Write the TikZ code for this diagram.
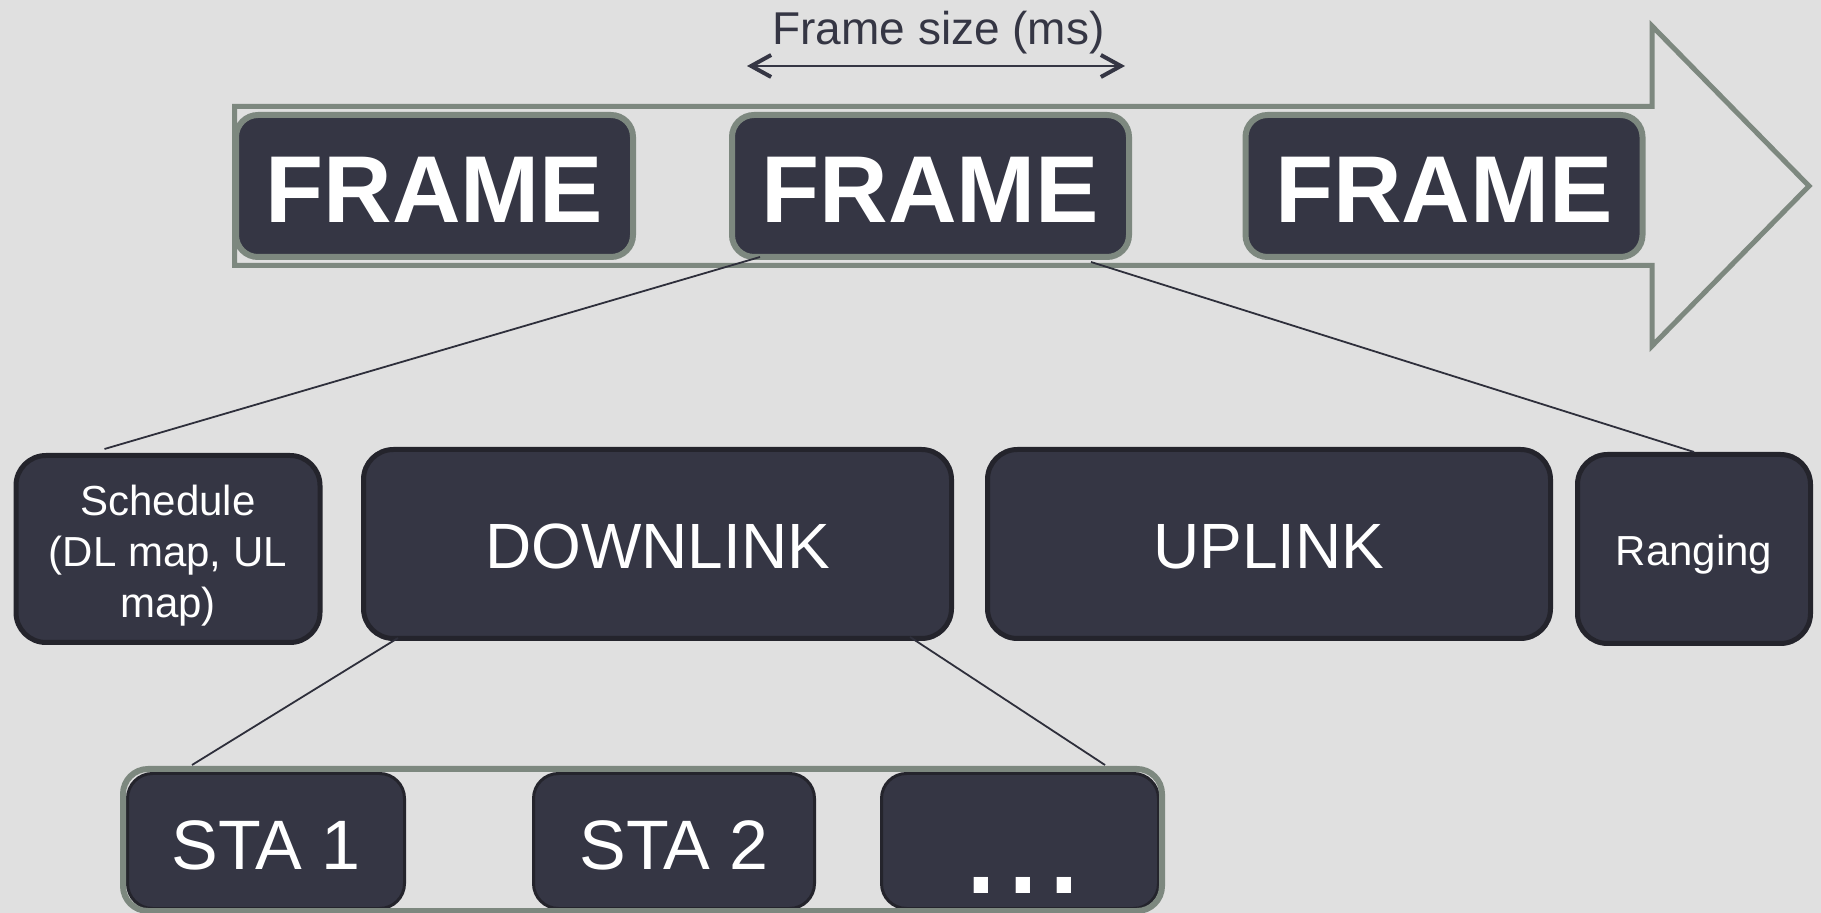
\documentclass[tikz,border=0pt]{standalone}
\usepackage{fontspec}
\setmainfont{Liberation Sans}
\usetikzlibrary{arrows.meta,calc}
\definecolor{bgc}{HTML}{E0E0E0}
\definecolor{boxfill}{HTML}{353644}
\definecolor{grayb}{HTML}{7D887F}
\definecolor{darkb}{HTML}{24242C}
\definecolor{linec}{HTML}{2E2F3B}
\definecolor{textdark}{HTML}{353644}
\tikzset{
  framebox/.style={draw=grayb, line width=3pt, fill=boxfill, rounded corners=11pt,
    minimum width=198.5pt, minimum height=71pt, inner sep=0pt, text=white,
    text height=37pt, text depth=0pt,
    font=\fontsize{47.5pt}{57pt}\selectfont\bfseries},
  subbox/.style={draw=darkb, line width=2.5pt, fill=boxfill, rounded corners=15pt,
    inner sep=0pt, text=white, align=center},
  stabox/.style={draw=darkb, line width=1.5pt, fill=boxfill, rounded corners=12.5pt,
    minimum height=67.5pt, inner sep=0pt, text=white, text height=28.1pt, text depth=0pt,
    font=\fontsize{35pt}{42pt}\selectfont},
  conn/.style={draw=linec, line width=0.9pt},
  shaft/.style={draw=grayb, line width=2.5pt, line join=miter},
}
\begin{document}
\begin{tikzpicture}[x=0.5pt,y=-0.5pt]
\useasboundingbox (0,0) rectangle (1821,913);
\fill[bgc] (0,0) rectangle (1821,913);

% big arrow
\draw[shaft] (234.5,106.5) -- (1652,106.5) -- (1652,26) -- (1809,186) -- (1652,346)
  -- (1652,265.5) -- (234.5,265.5) -- cycle;

% frame size label and dimension arrow
\node[anchor=base, inner sep=0pt, text=textdark, font=\fontsize{23pt}{28pt}\selectfont]
  (fs) at (938.5,45) {Frame size (ms)};
\coordinate (fsl) at (747,66);
\coordinate (fsr) at (1125,66);
\draw[draw=textdark, line width=1pt,
  {Straight Barb[length=10pt,width=11pt,line width=2pt]}-{Straight Barb[length=10pt,width=11pt,line width=2pt]}]
  (fsl) -- (fsr);

% frames
\node[framebox] (f1) at (434.5,186) {FRAME};
\node[framebox] (f2) at (930.5,186) {FRAME};
\node[framebox] (f3) at (1444,186) {FRAME};

% second row
\node[subbox, minimum width=152pt, minimum height=93.5pt,
  label={[text=white, align=center, inner sep=0pt, yshift=-3.5pt,
    font=\fontsize{21pt}{25.5pt}\selectfont]center:Schedule\\(DL map, UL\\map)}]
  (sch) at (168,549) {};
\node[subbox, minimum width=294pt, minimum height=94.5pt, text height=24.9pt, text depth=0pt,
  font=\fontsize{32pt}{38pt}\selectfont] (dl) at (657.5,544) {DOWNLINK};
\node[subbox, minimum width=281.5pt, minimum height=94.5pt, text height=24.9pt, text depth=0pt,
  font=\fontsize{32pt}{38pt}\selectfont] (ul) at (1269,544) {UPLINK};
\node[subbox, minimum width=116.5pt, minimum height=94.5pt, text height=17pt, text depth=0pt,
  font=\fontsize{21pt}{25pt}\selectfont] (rng) at (1694,549) {Ranging};

% third row
\node[stabox, minimum width=138.5pt] (s1) at (266,841) {STA 1};
\node[stabox, minimum width=140.5pt] (s2) at (674,841) {STA 2};
\node[stabox, minimum width=138.5pt] (s3) at (1020,841) {};
\node[anchor=base, inner sep=0pt, text=white, font=\fontsize{75pt}{80pt}\selectfont]
  (dots) at (1023,893) {...};
\node[draw=grayb, line width=3pt, rounded corners=12.5pt, minimum width=519.5pt,
  minimum height=71pt, inner sep=0pt] (bar) at (642.5,840) {};

% connectors
\draw[conn] ($(f2.south west)+(31,-3)$) -- ($(sch.north west)+(91,-4)$);
\draw[conn] ($(f2.south east)+(-41,2)$) -- (rng.north);
\draw[conn] ($(dl.south west)+(37,-3)$) -- ($(bar.north west)+(72,-1)$);
\draw[conn] ($(dl.south east)+(-44,-4)$) -- ($(bar.north east)+(-60,-1)$);
\end{tikzpicture}
\end{document}
